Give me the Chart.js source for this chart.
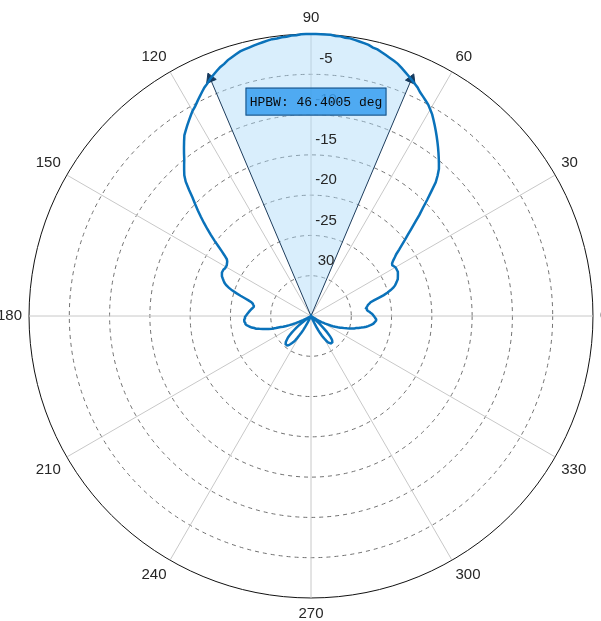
<!DOCTYPE html>
<html>
<head>
<meta charset="utf-8">
<script src="https://cdn.jsdelivr.net/npm/chart.js@4.4.1/dist/chart.umd.min.js"></script>
<style>
  html, body { margin: 0; padding: 0; background: #fff; overflow: hidden; width: 601px; height: 621px; }
  #wrap { position: absolute; left: -11px; top: 2px; width: 628px; height: 628px; }
</style>
</head>
<body>
<div id="wrap"><canvas id="polar" width="628" height="628"></canvas></div>
<script>
// gain in dB for angle 0..359 deg (0 = right, counter-clockwise)
const gainDb = [
  -27.2, -27.3, -27.4, -27.6, -27.7, -27.9, -28.0, -28.0, -28.1, -28.0,
  -27.9, -27.8, -27.6, -27.4, -26.9, -26.3, -25.6, -25.1, -24.6, -24.2,
  -23.9, -23.7, -23.5, -23.3, -23.2, -23.1, -23.0, -22.9, -22.9, -22.9,
  -22.9, -23.0, -23.1, -23.0, -22.7, -22.3, -21.9, -21.3, -20.7, -20.0,
  -19.3, -18.5, -17.6, -16.6, -15.7, -14.6, -13.5, -12.3, -11.5, -10.8,
  -10.3, -9.8, -9.3, -8.8, -8.3, -7.8, -7.3, -6.8, -6.3, -5.8,
  -5.4, -5.0, -4.7, -4.4, -4.1, -3.7, -3.4, -3.1, -2.8, -2.5,
  -2.2, -1.9, -1.7, -1.5, -1.3, -1.1, -0.9, -0.8, -0.6, -0.5,
  -0.4, -0.3, -0.2, -0.2, -0.1, -0.1, 0, 0, 0, 0,
  0, 0, 0, -0.1, -0.1, -0.2, -0.2, -0.3, -0.3, -0.4,
  -0.5, -0.6, -0.7, -0.8, -0.9, -1.0, -1.2, -1.4, -1.6, -1.9,
  -2.1, -2.4, -2.7, -3.0, -3.4, -3.7, -4.1, -4.5, -4.9, -5.3,
  -5.6, -6.0, -6.4, -6.8, -7.2, -7.6, -8.2, -8.8, -9.4, -10.0,
  -10.5, -11.0, -11.5, -12.2, -13.2, -14.2, -15.0, -15.8, -16.6, -17.4,
  -18.2, -19.0, -19.8, -20.6, -21.3, -21.9, -22.4, -22.6, -22.7, -22.8,
  -22.8, -22.8, -22.7, -22.7, -22.7, -22.8, -22.9, -23.1, -23.3, -23.5,
  -23.8, -24.2, -24.7, -25.3, -25.9, -26.5, -27.0, -27.4, -27.6, -27.7,
  -27.8, -27.8, -27.7, -27.6, -27.5, -27.4, -27.3, -27.2, -27.1, -27.0,
  -26.9, -26.8, -26.8, -26.7, -26.7, -26.7, -26.8, -26.8, -26.9, -27.1,
  -27.3, -27.5, -27.8, -28.0, -28.4, -28.8, -29.2, -29.5, -29.9, -30.4,
  -31.0, -31.3, -31.7, -32.1, -32.5, -32.9, -33.4, -33.9, -34.4, -34.8,
  -35, -35, -35, -35, -35, -34.6, -34.0, -33.5, -33.0, -32.6,
  -32.2, -31.8, -31.4, -31.1, -30.9, -30.7, -30.5, -30.4, -30.3, -30.3,
  -30.3, -30.3, -30.4, -30.5, -30.7, -30.9, -31.1, -31.4, -31.8, -32.2,
  -32.6, -33.0, -33.5, -34.0, -34.6, -35, -35, -35, -35, -35,
  -35, -35, -35, -35, -35, -35, -35, -35, -35, -35,
  -35, -35, -35, -35, -35, -35, -35, -35, -35, -35,
  -35, -35, -35, -35, -35, -35, -35, -35, -35, -35,
  -35, -35, -35, -35, -35, -35, -35, -35, -35, -35,
  -35, -35, -35, -35, -34.6, -34.0, -33.5, -33.0, -32.6, -32.2,
  -31.9, -31.6, -31.3, -31.1, -31.0, -30.9, -30.8, -30.8, -30.8, -30.8,
  -30.9, -31.0, -31.2, -31.5, -31.9, -32.3, -32.8, -33.3, -33.8, -34.4,
  -35, -35, -35, -35, -35, -35, -34.8, -34.5, -34.1, -33.8,
  -33.5, -33.3, -33.0, -32.7, -32.3, -32.0, -31.7, -31.4, -31.1, -30.9,
  -30.6, -30.3, -30.0, -29.7, -29.4, -29.2, -28.9, -28.6, -28.3, -28.0,
  -27.8, -27.6, -27.4, -27.2, -27.1, -27.0, -26.9, -26.9, -27.0, -27.1
];

const minDb = -35;
const maxDb = 0;
const hpbwLow = 67;    // -3 dB edges, deg
const hpbwHigh = 113;
const hpbwText = 'HPBW: 46.4005 deg';
const ringValues = [-5, -10, -15, -20, -25, -30];
const ringLabels = ['-5', '-10', '-15', '-20', '-25', '30'];
const spokeStep = 30;

// radar goes clockwise from the top, so start at 90 and count down
const angles = [];
for (let i = 0; i < 360; i++) angles.push((90 - i + 360) % 360);

const patternData = angles.map(a => gainDb[a]);
const wedgeData = angles.map(a => (a >= hpbwLow && a <= hpbwHigh) ? gainDb[a] : minDb);

const isTip = a => a === hpbwLow || a === hpbwHigh;
const isSpoke = i => angles[i] % spokeStep === 0;

const overlay = {
  id: 'overlay',
  afterDatasetsDraw(chart) {
    const r = chart.scales.r;
    const ctx = chart.ctx;
    ctx.save();
    ctx.font = '15px "Liberation Sans", Arial, sans-serif';
    ctx.fillStyle = '#262626';
    ctx.textAlign = 'center';
    ctx.textBaseline = 'middle';
    ringValues.forEach((v, i) => {
      const d = r.getDistanceFromCenterForValue(v);
      ctx.fillText(ringLabels[i], r.xCenter + 15, r.yCenter - d - 15);
    });

    // HPBW box
    const bw = 141, bh = 28;
    const bx = r.xCenter + 5 - bw / 2;
    const by = r.yCenter - r.getDistanceFromCenterForValue(-10) - 13 - bh / 2;
    ctx.fillStyle = 'rgba(60,160,240,0.88)';
    ctx.fillRect(bx, by, bw, bh);
    ctx.strokeStyle = '#1d4f7c';
    ctx.lineWidth = 1;
    ctx.strokeRect(bx + 0.5, by + 0.5, bw - 1, bh - 1);
    ctx.fillStyle = '#0a0a0a';
    ctx.font = '13px "Liberation Mono", "DejaVu Sans Mono", monospace';
    ctx.fillText(hpbwText, bx + bw / 2, by + bh / 2 + 1);
    ctx.restore();
  }
};

new Chart(document.getElementById('polar'), {
  type: 'radar',
  data: {
    labels: angles.map(String),
    datasets: [
      {
        data: patternData,
        borderColor: '#0a72ba',
        borderWidth: 2.5,
        pointRadius: 0,
        fill: false,
        tension: 0
      },
      {
        data: wedgeData,
        borderColor: '#1d3c5c',
        borderWidth: 1,
        backgroundColor: 'rgba(170,218,248,0.45)',
        fill: 'start',
        tension: 0,
        pointStyle: 'triangle',
        pointRadius: ctx => isTip(angles[ctx.dataIndex]) ? 6 : 0,
        pointRotation: ctx => angles[ctx.dataIndex] === hpbwHigh ? -23 : 23,
        pointBackgroundColor: '#163a5e',
        pointBorderColor: '#163a5e',
        pointBorderWidth: 1
      }
    ]
  },
  options: {
    responsive: false,
    animation: false,
    plugins: {
      legend: { display: false },
      tooltip: { enabled: false }
    },
    scales: {
      r: {
        min: minDb,
        max: maxDb,
        ticks: { display: false, stepSize: 5 },
        grid: {
          circular: true,
          color: ctx => ctx.tick.value === maxDb ? '#111' : '#707070',
          lineWidth: 1
        },
        border: {
          dash: ctx => ctx.tick.value === maxDb ? [] : [4, 4]
        },
        angleLines: {
          color: ctx => isSpoke(ctx.index) ? '#c8c8c8' : 'rgba(0,0,0,0)',
          lineWidth: ctx => isSpoke(ctx.index) ? 1 : 0
        },
        pointLabels: {
          padding: 7,
          color: '#262626',
          font: { family: '"Liberation Sans", Arial, sans-serif', size: 15 },
          callback: (label, i) => isSpoke(i) ? label : ''
        }
      }
    }
  },
  plugins: [overlay]
});
</script>
</body>
</html>
